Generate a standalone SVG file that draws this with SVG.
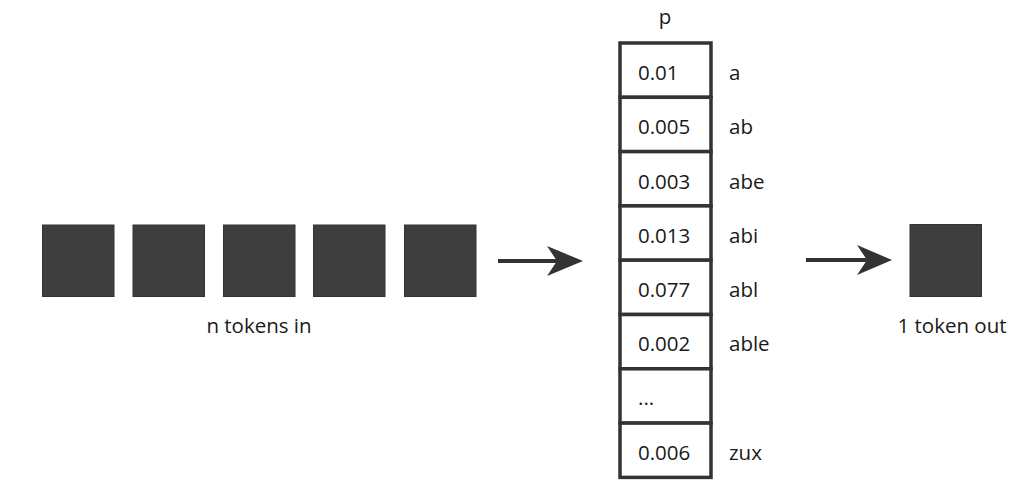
<svg xmlns="http://www.w3.org/2000/svg" width="1023" height="500" viewBox="0 0 1023 500">
<style>
.tok{fill:#3e3e3e;stroke:#333;stroke-width:1}
.cell{fill:#fff;stroke:#333;stroke-width:3.5}
.t{font-family:"Open Sans","Noto Sans",sans-serif;font-size:20.5px;fill:#1a1a1a}
.c{text-anchor:middle}
.conn{stroke:#333;stroke-width:4;fill:none}
.head{fill:#333}
</style>
<rect width="1023" height="500" fill="#fff"/>
<g id="input-tokens">
<rect class="tok" x="42.5" y="225" width="71.5" height="71.5"/>
<rect class="tok" x="133" y="225" width="71.5" height="71.5"/>
<rect class="tok" x="223.5" y="225" width="71.5" height="71.5"/>
<rect class="tok" x="313.5" y="225" width="71.5" height="71.5"/>
<rect class="tok" x="404.5" y="225" width="71.5" height="71.5"/>
<text class="t c" x="259" y="333">n tokens in</text>
</g>
<g id="prob-table">
<text class="t c" x="665" y="24">p</text>
<rect class="cell" x="620" y="43" width="91" height="54.3"/>
<rect class="cell" x="620" y="97.3" width="91" height="54.3"/>
<rect class="cell" x="620" y="151.6" width="91" height="54.3"/>
<rect class="cell" x="620" y="205.9" width="91" height="54.3"/>
<rect class="cell" x="620" y="260.2" width="91" height="54.3"/>
<rect class="cell" x="620" y="314.5" width="91" height="54.3"/>
<rect class="cell" x="620" y="368.8" width="91" height="54.3"/>
<rect class="cell" x="620" y="423.1" width="91" height="54.3"/>
<text class="t" x="638" y="80">0.01</text>
<text class="t" x="638" y="134">0.005</text>
<text class="t" x="638" y="189">0.003</text>
<text class="t" x="638" y="243">0.013</text>
<text class="t" x="638" y="297">0.077</text>
<text class="t" x="638" y="351">0.002</text>
<text class="t" x="638" y="405">...</text>
<text class="t" x="638" y="460">0.006</text>
<text class="t" x="729" y="80">a</text>
<text class="t" x="729" y="134">ab</text>
<text class="t" x="729" y="189">abe</text>
<text class="t" x="729" y="243">abi</text>
<text class="t" x="729" y="297">abl</text>
<text class="t" x="729" y="351">able</text>
<text class="t" x="729" y="460">zux</text>
</g>
<g id="output-token">
<rect class="tok" x="910" y="224.5" width="71.5" height="72"/>
<text class="t c" x="952" y="333">1 token out</text>
</g>
<g id="connectors">
<line class="conn" x1="498" y1="261" x2="560" y2="261"/>
<polygon class="head" points="583,261 547,246 557,261 547,276"/>
<line class="conn" x1="806" y1="260" x2="868" y2="260"/>
<polygon class="head" points="892,260 857,245 867,260 857,275"/>
</g>
</svg>
